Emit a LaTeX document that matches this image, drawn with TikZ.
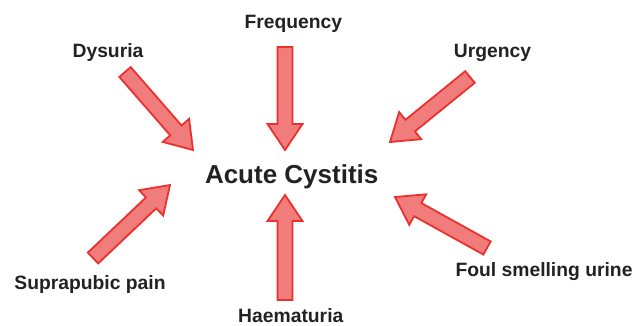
\documentclass[tikz,border=0pt]{standalone}
\usepackage{fontspec}
\setmainfont{Liberation Sans}
\usetikzlibrary{calc}
\definecolor{arrfill}{RGB}{240,124,124}
\definecolor{arrline}{RGB}{236,48,48}
\definecolor{txt}{RGB}{34,34,34}
\tikzset{
  lbl/.style={anchor=base, inner sep=0pt, text=txt, font=\fontsize{19.3}{22}\selectfont\bfseries},
  mainlbl/.style={anchor=base, inner sep=0pt, text=txt, font=\fontsize{26}{30}\selectfont\bfseries},
  blockarrow/.style={fill=arrfill, draw=arrline, line width=1.8pt, line join=miter}
}
\newcommand\blockarr[2]{%
  \coordinate (hb) at ($(#2)!26pt!(#1)$);
  \draw[blockarrow]
    ($(#1)!7.5pt!90:(#2)$) -- ($(hb)!7.5pt!-90:(#1)$) -- ($(hb)!17.5pt!-90:(#1)$) --
    (#2) -- ($(hb)!17.5pt!90:(#1)$) -- ($(hb)!7.5pt!90:(#1)$) --
    ($(#1)!7.5pt!-90:(#2)$) -- cycle;
}
\begin{document}
\begin{tikzpicture}[x=1pt,y=-1pt]
\useasboundingbox (0,0) rectangle (636,325);
% labels
\node[mainlbl] (main) at (291.7,183.3) {Acute Cystitis};
\node[lbl] (dys) at (108,57) {Dysuria};
\node[lbl] (freq) at (293.3,28.3) {Frequency};
\node[lbl] (urg) at (492.5,57) {Urgency};
\node[lbl] (sup) at (90,289) {Suprapubic pain};
\node[lbl] (foul) at (544,276.7) {Foul smelling urine};
\node[lbl] (haem) at (290.8,322) {Haematuria};
% arrow ends
\coordinate (dysT) at (125,72);   \coordinate (dysP) at (193,150);
\coordinate (freqT) at (285,47);  \coordinate (freqP) at (285,150);
\coordinate (urgT) at (470,77);   \coordinate (urgP) at (390,142);
\coordinate (supT) at (93,258);   \coordinate (supP) at (170,185);
\coordinate (foulT) at (487,248); \coordinate (foulP) at (395,197);
\coordinate (haemT) at (285,300); \coordinate (haemP) at (285,195);
\blockarr{dysT}{dysP}
\blockarr{freqT}{freqP}
\blockarr{urgT}{urgP}
\blockarr{supT}{supP}
\blockarr{foulT}{foulP}
\blockarr{haemT}{haemP}
\end{tikzpicture}
\end{document}
